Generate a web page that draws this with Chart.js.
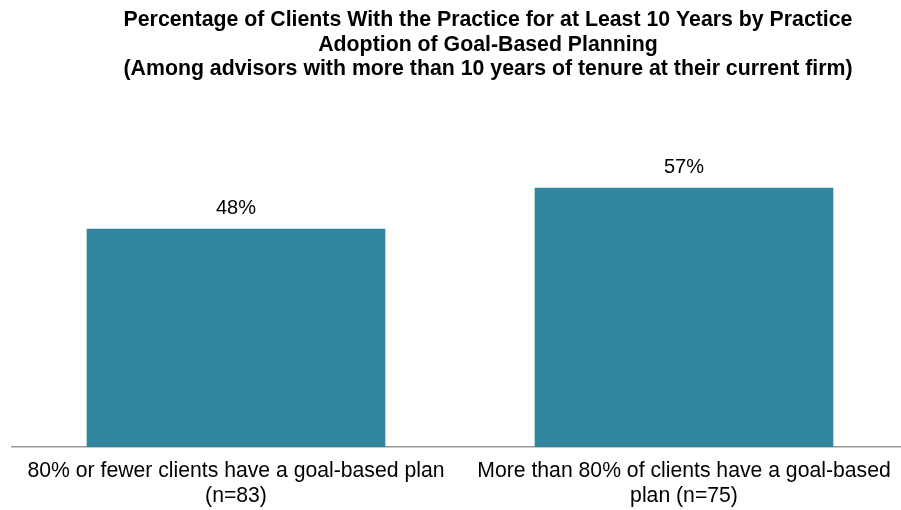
<!DOCTYPE html>
<html>
<head>
<meta charset="utf-8">
<script src="https://cdn.jsdelivr.net/npm/chart.js@4"></script>
<style>
  html, body { margin: 0; padding: 0; background: #fff; overflow: hidden; }
  #wrap { width: 964px; height: 510px; }
</style>
</head>
<body>
<div id="wrap"><canvas id="goalChart" width="964" height="510"></canvas></div>
<script>
var categories = [
  ['80% or fewer clients have a goal-based plan', '(n=83)'],
  ['More than 80% of clients have a goal-based', 'plan (n=75)']
];
var values = [48, 57];
var titleLines = [
  'Percentage of Clients With the Practice for at Least 10 Years by Practice',
  'Adoption of Goal-Based Planning',
  '(Among advisors with more than 10 years of tenure at their current firm)'
];

var fontFamily = 'Arial, "Liberation Sans", sans-serif';

// value labels above the bars
var valueLabels = {
  id: 'valueLabels',
  afterDatasetsDraw: function (chart) {
    var ctx = chart.ctx;
    var meta = chart.getDatasetMeta(0);
    ctx.save();
    ctx.font = '20px ' + fontFamily;
    ctx.fillStyle = '#000';
    ctx.textAlign = 'center';
    ctx.textBaseline = 'alphabetic';
    meta.data.forEach(function (bar, i) {
      ctx.fillText(values[i] + '%', bar.x, bar.y - 15);
    });
    ctx.restore();
  }
};

var chart = new Chart(document.getElementById('goalChart'), {
  type: 'bar',
  data: {
    labels: categories,
    datasets: [{
      data: values,
      backgroundColor: '#31859C',
      borderWidth: 0,
      barPercentage: 2 / 3,
      categoryPercentage: 1
    }]
  },
  options: {
    responsive: false,
    devicePixelRatio: 1,
    animation: false,
    layout: { padding: { left: 12, right: 0, top: 0, bottom: -10 } },
    plugins: {
      legend: { display: false },
      tooltip: { enabled: false },
      title: {
        display: true,
        text: titleLines,
        color: '#000',
        font: { family: fontFamily, size: 21.3, weight: 'bold', lineHeight: 1.15 },
        padding: { top: 8, bottom: 47 }
      }
    },
    scales: {
      x: {
        grid: { display: false, drawTicks: false },
        border: { display: true, color: '#999999', width: 1.5 },
        ticks: {
          color: '#000',
          padding: 12,
          maxRotation: 0,
          autoSkip: false,
          font: { family: fontFamily, size: 21.2, lineHeight: 1.15 }
        }
      },
      y: {
        position: 'right',
        min: 0,
        max: 70,
        grid: { display: false, drawTicks: false },
        border: { display: false },
        ticks: { display: false },
        afterFit: function (scale) { scale.width = 56; }
      }
    }
  },
  plugins: [valueLabels]
});
</script>
</body>
</html>
